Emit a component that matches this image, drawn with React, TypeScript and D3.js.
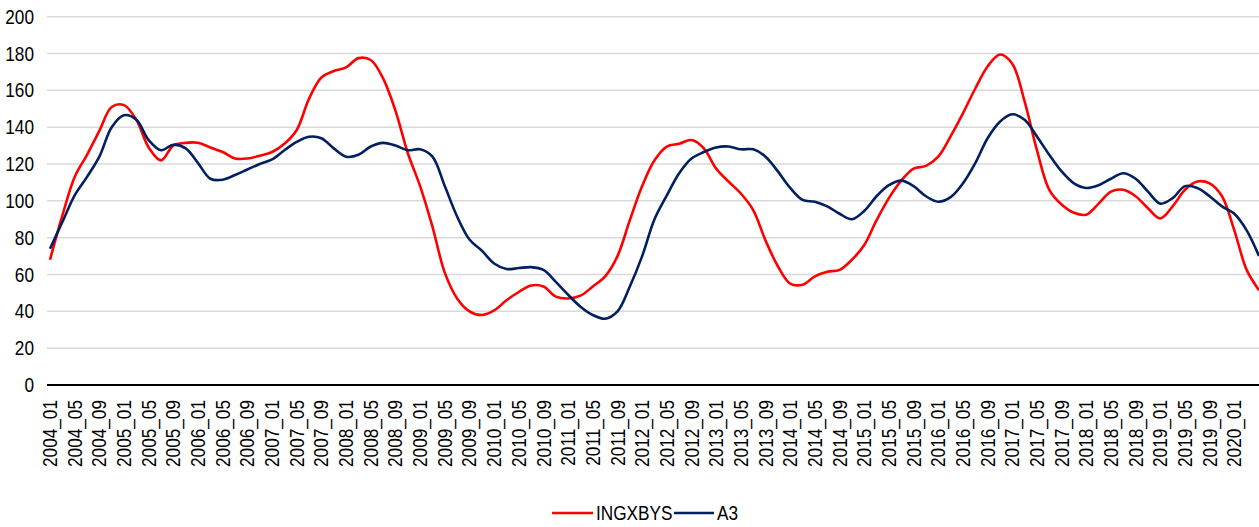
import React, { useLayoutEffect } from 'react';
import * as d3 from 'd3';

// category labels shown under the axis (every 4th month)
const tickLabels = [
  '2004_01', '2004_05', '2004_09', '2005_01', '2005_05', '2005_09', '2006_01', '2006_05', '2006_09',
  '2007_01', '2007_05', '2007_09', '2008_01', '2008_05', '2008_09', '2009_01', '2009_05', '2009_09',
  '2010_01', '2010_05', '2010_09', '2011_01', '2011_05', '2011_09', '2012_01', '2012_05', '2012_09',
  '2013_01', '2013_05', '2013_09', '2014_01', '2014_05', '2014_09', '2015_01', '2015_05', '2015_09',
  '2016_01', '2016_05', '2016_09', '2017_01', '2017_05', '2017_09', '2018_01', '2018_05', '2018_09',
  '2019_01', '2019_05', '2019_09', '2020_01',
];

// values read every 2 months, from 2004_01 to 2020_05
const firstPoint = '2004_01';
const lastPoint = '2020_05';
const pointStep = 2;

const ingxbys = [
  68, 92, 113, 125, 138, 151, 152, 144, 129, 122,
  130, 131.5, 131.5, 129, 126.5, 123, 123, 124.5, 126.5, 131,
  138.5, 155.5, 167, 170.5, 172.5, 177.5, 176.5, 166.5, 149, 126,
  108, 86, 61, 47, 40, 38, 40.5, 46, 50.5, 54,
  53.5, 48, 47, 48.5, 53.5, 59, 70, 89.5, 108, 122,
  129.5, 131, 133, 128.5, 117.5, 110.5, 104, 95, 78.5, 64.5,
  55, 54.5, 59, 61.5, 62.5, 68, 76, 89.5, 101.5, 111,
  117.5, 119, 124, 135, 147.5, 161, 173, 179.5, 174.5, 154,
  127.5, 106, 98, 93.5, 92.5, 98.5, 105, 106, 102.5, 96,
  90.5, 97, 106, 110.5, 109.5, 102.5, 84, 62.5, 51.5,
];

const a3 = [
  74, 88.5, 103, 113, 124, 140, 146.5, 144, 133, 127.5,
  130.5, 128.5, 120.5, 112, 111.5, 114, 117, 120, 122.5, 127.5,
  132, 134.8, 134, 128.5, 124, 125, 129.5, 131.5, 130, 127.5,
  128, 124, 108, 91.5, 79, 73, 66, 63, 63.5, 64,
  62.5, 56, 49, 42.5, 38, 36, 40, 53.5, 70, 90,
  103, 115, 123, 126.5, 129, 129.5, 128, 128, 124, 116,
  107, 100.5, 99.5, 97, 93, 90, 94.5, 102.5, 108.5, 111,
  108, 102.5, 99.5, 102, 109.5, 120.5, 134, 143, 147, 144,
  135, 125, 116, 109.5, 107, 108.5, 112, 115, 112, 105,
  98.5, 101.5, 108, 107, 102.5, 97, 93, 84, 70,
];

const yTicks = [0, 20, 40, 60, 80, 100, 120, 140, 160, 180, 200];

const series = [
  { name: 'INGXBYS', values: ingxbys, color: '#ff0000' },
  { name: 'A3', values: a3, color: '#002060' },
];

const monthIndex = (label: string) => {
  const [yy, mm] = label.split('_').map(Number);
  return (yy - 2004) * 12 + (mm - 1);
};

const W = 1259;
const H = 527;
// the original uses a condensed face; squeeze Liberation Sans horizontally
const font = "'Liberation Sans', Arial, sans-serif";
const squeeze = 'scale(0.84,1)';

export default function App() {
  useLayoutEffect(() => {
    document.body.style.margin = '0';
  }, []);

  const start = monthIndex(firstPoint);
  const end = monthIndex(lastPoint);

  const x = d3.scaleLinear().domain([start, end]).range([50, 1259]);
  const y = d3.scaleLinear().domain([0, 200]).range([385, 16.7]);

  const line = d3
    .line<number>()
    .x((_, i) => x(start + i * pointStep))
    .y((d) => y(d))
    .curve(d3.curveCatmullRom.alpha(0.5));

  return (
    <svg width={W} height={H} style={{ display: 'block', background: '#fff' }}>
      {yTicks.filter((t) => t > 0).map((t) => (
        <line key={t} x1={47} x2={W} y1={y(t)} y2={y(t)} stroke="#d9d9d9" strokeWidth={1.5} />
      ))}
      {yTicks.map((t) => (
        <text
          key={'l' + t}
          transform={`translate(34,${y(t)}) ${squeeze}`}
          textAnchor="end"
          dominantBaseline="central"
          fontFamily={font}
          fontSize={20.5}
          fill="#000"
        >
          {t}
        </text>
      ))}

      {series.map((s) => (
        <path key={s.name} d={line(s.values) || ''} fill="none" stroke={s.color} strokeWidth={2.6} />
      ))}

      <line x1={47} x2={W} y1={y(0)} y2={y(0)} stroke="#000" strokeWidth={1.8} />

      {tickLabels.map((lbl) => {
        const px = x(monthIndex(lbl));
        return (
          <text
            key={lbl}
            transform={`translate(${px},400) rotate(-90) ${squeeze}`}
            textAnchor="end"
            dominantBaseline="central"
            fontFamily={font}
            fontSize={20.5}
            fill="#000"
          >
            {lbl}
          </text>
        );
      })}

      <g fontFamily={font} fontSize={20.5} fill="#000">
        <line x1={552} x2={593} y1={513} y2={513} stroke={series[0].color} strokeWidth={2.6} />
        <text transform={`translate(596,513) ${squeeze}`} dominantBaseline="central">{series[0].name}</text>
        <line x1={674} x2={714} y1={513} y2={513} stroke={series[1].color} strokeWidth={2.6} />
        <text transform={`translate(717,513) ${squeeze}`} dominantBaseline="central">{series[1].name}</text>
      </g>
    </svg>
  );
}
